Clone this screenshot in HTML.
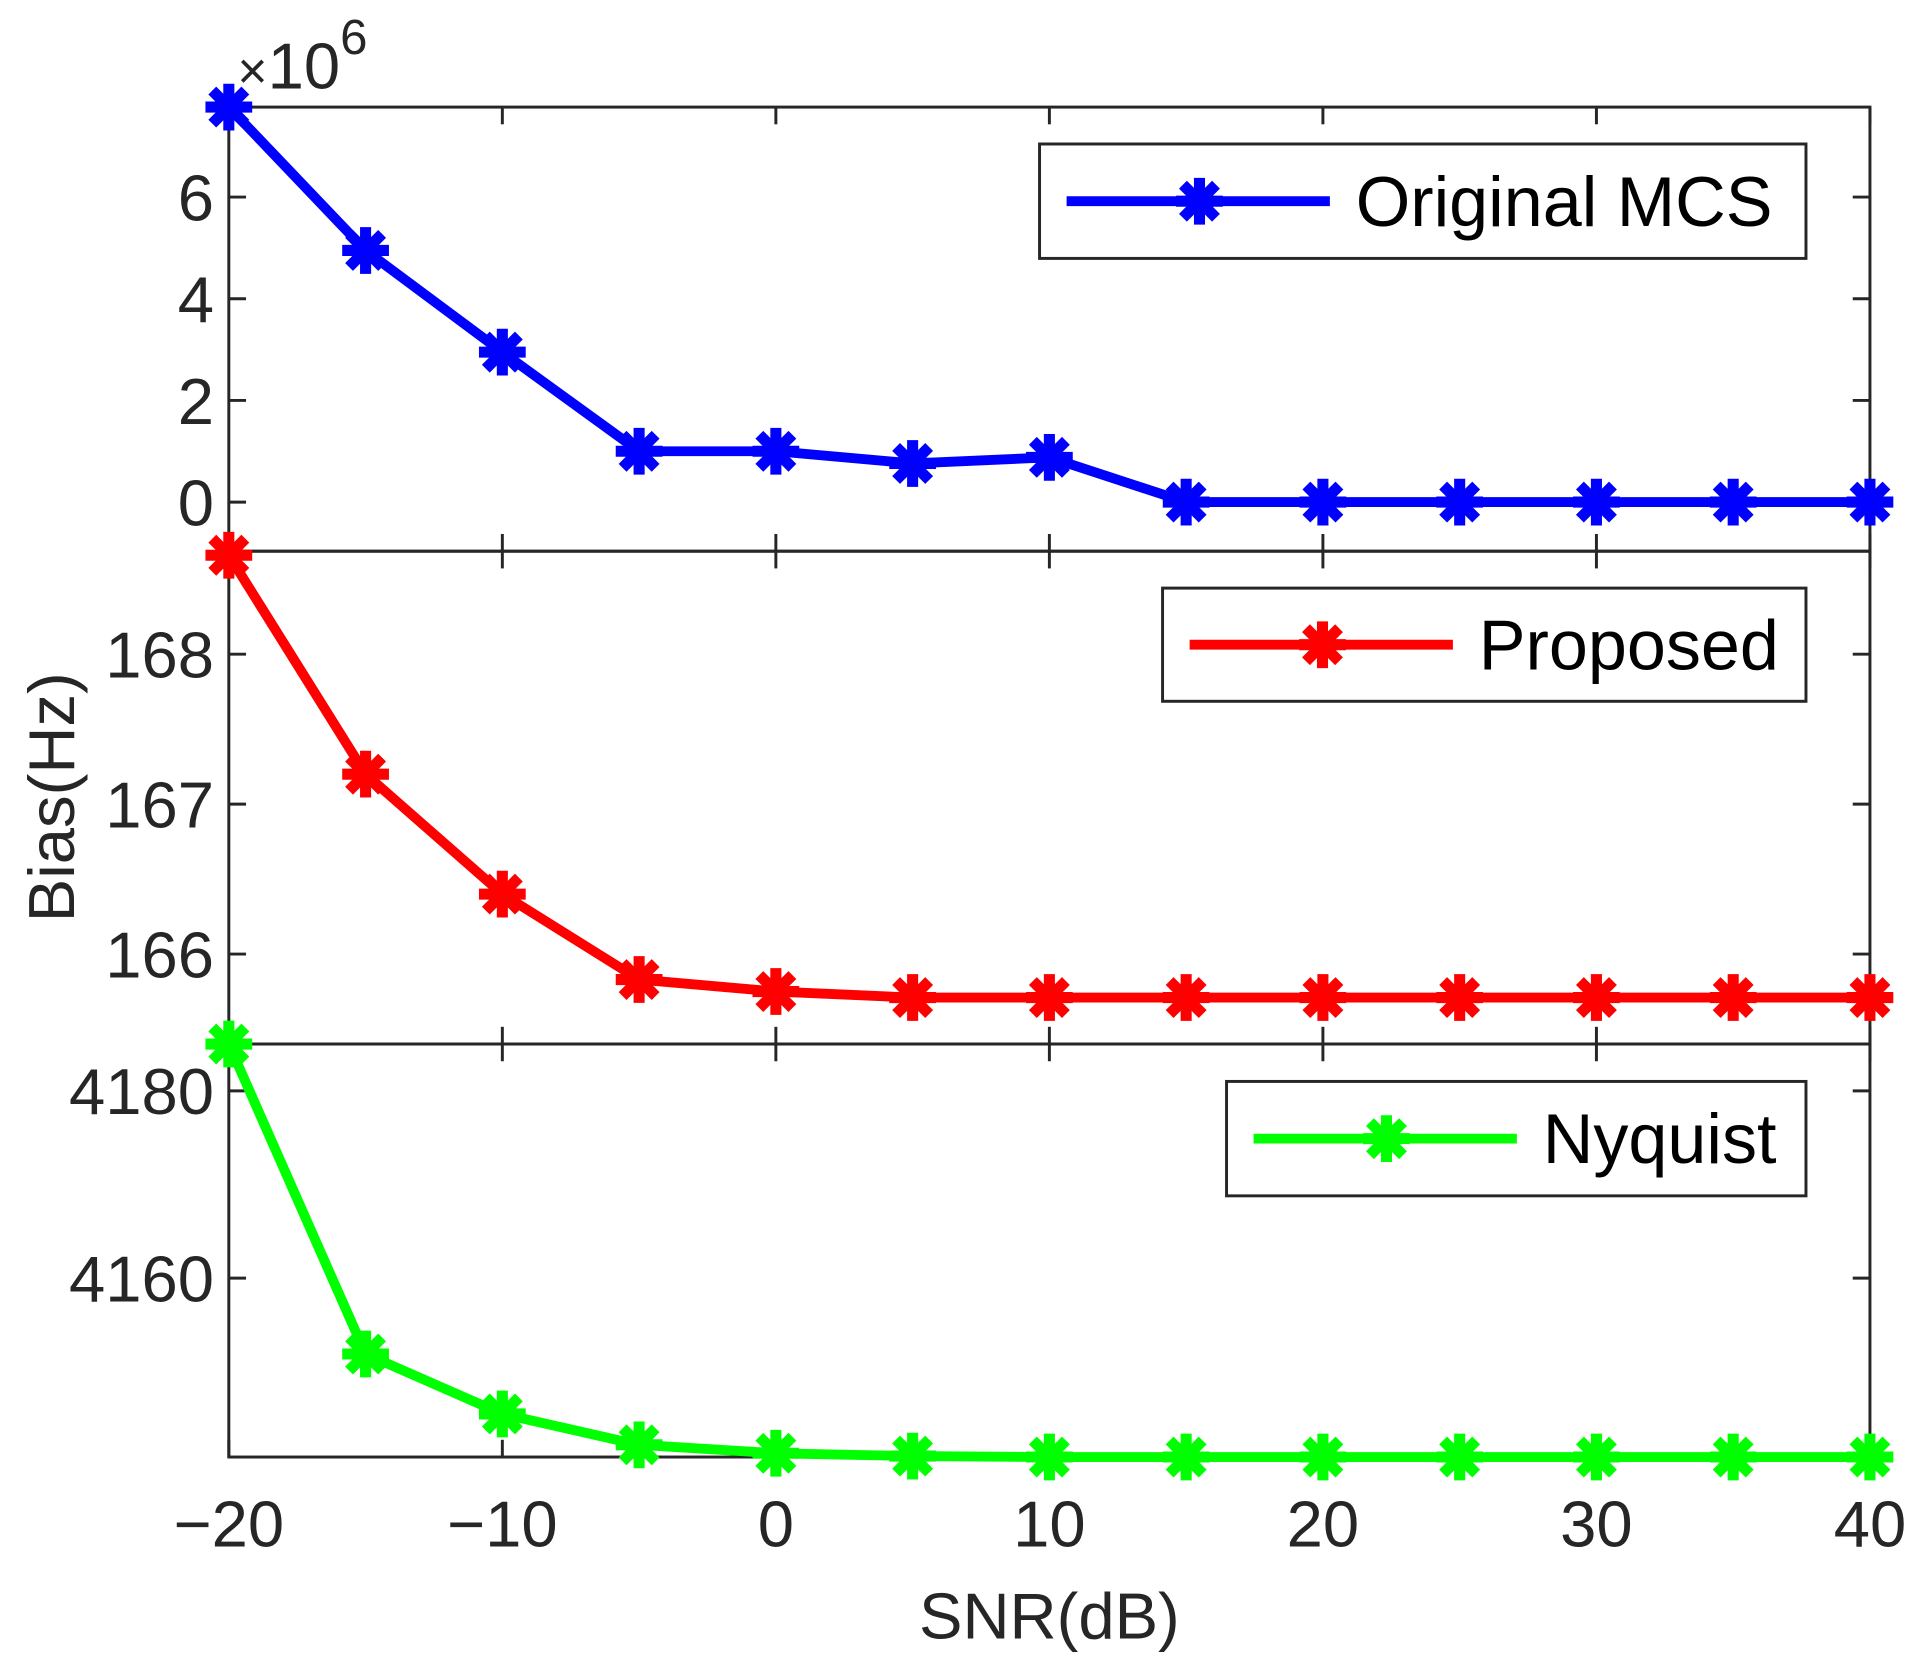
<!DOCTYPE html>
<html><head><meta charset="utf-8"><style>
html,body{margin:0;padding:0;background:#fff;}
svg{display:block;font-family:"Liberation Sans",Arial,sans-serif;}
</style></head><body>
<svg id="chart" width="1929" height="1672" viewBox="0 0 1568 1359" xmlns="http://www.w3.org/2000/svg">
<g id="root"></g>
</svg>
<script>
const snr = [-20,-15,-10,-5,0,5,10,15,20,25,30,35,40];
const mcsValues = [7.77,4.95,2.95,1.0,1.0,0.76,0.88,0,0,0,0,0,0];
const proposedValues = [168.66,167.2,166.4,165.83,165.75,165.71,165.71,165.71,165.71,165.71,165.71,165.71,165.71];
const nyquistValues = [4185.0,4151.9,4145.5,4142.2,4141.3,4141.0,4140.9,4140.9,4140.9,4140.9,4140.9,4140.9,4140.9];
const xTicks = [-20,-10,0,10,20,30,40];
const mcsTicks = [0,2,4,6];
const proposedTicks = [166,167,168];
const nyquistTicks = [4160,4180];

const NS="http://www.w3.org/2000/svg";
const root=document.getElementById('root');
function el(tag,attrs,parent){const e=document.createElementNS(NS,tag);for(const k in attrs)e.setAttribute(k,attrs[k]);(parent||root).appendChild(e);return e;}
const X0=186,X1=1520;
const xs=v=>X0+(v+20)*(X1-X0)/60;
const AX='#262626';

const panels=[
 {name:'original-mcs',top:87,bot:448,ymin:-0.966,ymax:7.77,ticks:mcsTicks,vals:mcsValues,color:'#0000ff',label:'Original MCS',leg:[845,117,1468,210]},
 {name:'proposed',top:448,bot:848.6,ymin:165.40,ymax:168.687,ticks:proposedTicks,vals:proposedValues,color:'#ff0000',label:'Proposed',leg:[945,478,1468,570]},
 {name:'nyquist',top:848.6,bot:1184.3,ymin:4140.9,ymax:4185.0,ticks:nyquistTicks,vals:nyquistValues,color:'#00ff00',label:'Nyquist',leg:[997,879,1468,972]}
];

function marker(g,x,y,c,r){
  for(const a of [0,45,90,135]){
    const t=a*Math.PI/180;
    el('line',{x1:x-r*Math.cos(t),y1:y-r*Math.sin(t),x2:x+r*Math.cos(t),y2:y+r*Math.sin(t),stroke:c,'stroke-width':9},g);
  }
  el('circle',{cx:x,cy:y,r:r*0.55,fill:c},g);
}

panels.forEach(p=>{
  const g=el('g',{});
  
  
  const ys=v=>p.bot-(v-p.ymin)*(p.bot-p.top)/(p.ymax-p.ymin);
  const box=el('rect',{x:X0,y:p.top,width:X1-X0,height:p.bot-p.top,fill:'none',stroke:AX,'stroke-width':2.4},g);
  
  
  xTicks.forEach(t=>{
    el('line',{x1:xs(t),y1:p.top,x2:xs(t),y2:p.top+14,stroke:AX,'stroke-width':2.4},g);
    el('line',{x1:xs(t),y1:p.bot,x2:xs(t),y2:p.bot-14,stroke:AX,'stroke-width':2.4},g);
  });
  p.ticks.forEach(t=>{
    const y=ys(t);
    el('line',{x1:X0,y1:y,x2:X0+14,y2:y,stroke:AX,'stroke-width':2.4},g);
    el('line',{x1:X1,y1:y,x2:X1-14,y2:y,stroke:AX,'stroke-width':2.4},g);
    const tx=el('text',{x:X0-12,y:y+19,'text-anchor':'end','font-size':53,fill:AX},g);
    tx.textContent=t;
    
    
  });
  const pts=snr.map((s,i)=>xs(s)+','+ys(p.vals[i])).join(' ');
  const line=el('polyline',{points:pts,fill:'none',stroke:p.color,'stroke-width':8,'stroke-linejoin':'round'},g);
  
  
  snr.forEach((s,i)=>{
    const mg=el('g',{},g);
    
    
    marker(mg,xs(s),ys(p.vals[i]),p.color,19);
  });
  const [lx,ly,rx,ry]=p.leg;
  const lg=el('g',{},g);
  
  
  el('rect',{x:lx,y:ly,width:rx-lx,height:ry-ly,fill:'#fff',stroke:AX,'stroke-width':2.4},lg);
  const cy=(ly+ry)/2;
  el('line',{x1:lx+22,y1:cy,x2:lx+236,y2:cy,stroke:p.color,'stroke-width':8},lg);
  marker(lg,lx+130,cy,p.color,19);
  const lt=el('text',{x:lx+257,y:cy+20,'text-anchor':'start','font-size':57,fill:'#000'},lg);
  lt.textContent=p.label;
});

xTicks.forEach(t=>{
  const tx=el('text',{x:xs(t),y:1257,'text-anchor':'middle','font-size':53,fill:AX});
  tx.textContent=t<0?'\u2212'+(-t):String(t);
  
  
});
const xl=el('text',{x:853,y:1332,'text-anchor':'middle','font-size':53,fill:AX});
xl.textContent='SNR(dB)';


const yl=el('text',{x:0,y:0,'text-anchor':'middle','font-size':53,fill:AX,transform:'translate(60,648) rotate(-90)'});
yl.textContent='Bias(Hz)';


const ex=el('text',{x:193,y:72,'font-size':53,fill:AX});
ex.innerHTML='<tspan font-size="42">×</tspan>10<tspan dy="-28" font-size="40">6</tspan>';


</script>
</body></html>
